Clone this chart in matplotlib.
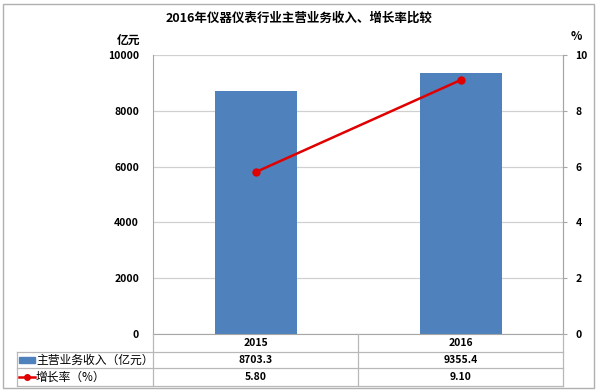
import matplotlib
matplotlib.use("Agg")
import matplotlib.pyplot as plt
from matplotlib.patches import Rectangle
from matplotlib.lines import Line2D
from matplotlib.transforms import blended_transform_factory

plt.rcParams['font.family'] = ['Noto Sans CJK SC', 'DejaVu Sans']

years = ['2015', '2016']
revenue = [8703.3, 9355.4]
growth = [5.80, 9.10]
revenue_labels = ['8703.3', '9355.4']
growth_labels = ['5.80', '9.10']
title = '2016年仪器仪表行业主营业务收入、增长率比较'
row_names = ['主营业务收入（亿元）', '增长率（%）']

W, H = 598, 392
bar_color = '#4F81BD'
line_color = '#E00000'
grid_color = '#D0D0D0'
edge_color = '#A6A6A6'


def fx(x):
    return x / W


def fy(y):
    return 1 - y / H


fig = plt.figure(figsize=(W / 100, H / 100), dpi=100)

# outer frame
fig.patches.append(Rectangle((fx(3), fy(388)), fx(591), (388 - 4) / H,
                             transform=fig.transFigure, fill=False,
                             edgecolor='#B0B0B0', linewidth=1))

ax = fig.add_axes([fx(153), fy(334), fx(410), (334 - 55) / H])
x = list(range(len(years)))
ax.bar(x, revenue, width=0.4, color=bar_color, zorder=2)
ax.set_xlim(-0.5, 1.5)
ax.set_ylim(0, 10000)
ax.set_yticks([0, 2000, 4000, 6000, 8000, 10000])
ax.set_xticks([])
ax.grid(axis='y', color=grid_color, linewidth=0.9, zorder=0)
for s in ['top']:
    ax.spines[s].set_visible(False)
for s in ['left', 'right', 'bottom']:
    ax.spines[s].set_color(edge_color)
ax.tick_params(axis='y', length=0, labelsize=7.5, pad=10)
for lab in ax.get_yticklabels():
    lab.set_fontweight('bold')

ax2 = ax.twinx()
ax2.plot(x, growth, color=line_color, linewidth=1.8, marker='o',
         markersize=5, zorder=3)
ax2.set_ylim(0, 10)
ax2.set_yticks([0, 2, 4, 6, 8, 10])
ax2.tick_params(axis='y', length=3, color=edge_color, labelsize=7.5, pad=6)
for lab in ax2.get_yticklabels():
    lab.set_fontweight('bold')
for s in ['top', 'left', 'bottom']:
    ax2.spines[s].set_visible(False)
ax2.spines['right'].set_color(edge_color)

fig.text(fx(299), fy(18), title, ha='center', va='center', fontsize=9,
         fontweight='bold')
fig.text(fx(140), fy(40), '亿元', ha='right', va='center', fontsize=8.5,
         fontweight='bold')
fig.text(fx(576), fy(37), '%', ha='center', va='center', fontsize=8.5,
         fontweight='bold')

# data table below the chart
line_kw = dict(color='#B8B8B8', linewidth=0.9, transform=fig.transFigure)
for y in [352, 368, 386]:
    fig.lines.append(Line2D([fx(17), fx(563)], [fy(y), fy(y)], **line_kw))
fig.lines.append(Line2D([fx(17), fx(17)], [fy(352), fy(386)], **line_kw))
for xv in [153, 358, 563]:
    fig.lines.append(Line2D([fx(xv), fx(xv)], [fy(334), fy(386)], **line_kw))

bt = blended_transform_factory(ax.transData, fig.transFigure)
rows = [(343, years), (360, revenue_labels), (377, growth_labels)]
for y, labels in rows:
    for xi, lab in zip(x, labels):
        fig.text(xi, fy(y), lab, transform=bt, ha='center', va='center',
                 fontsize=7.5, fontweight='bold')

# legend keys in the table
fig.patches.append(Rectangle((fx(19), fy(363)), fx(16), 6 / H,
                             transform=fig.transFigure, color=bar_color))
fig.lines.append(Line2D([fx(19), fx(35)], [fy(377), fy(377)],
                        color=line_color, linewidth=1.8, marker='o',
                        markevery=[], transform=fig.transFigure))
fig.lines.append(Line2D([fx(27)], [fy(377)], color=line_color, marker='o',
                        markersize=4, transform=fig.transFigure))
fig.text(fx(36), fy(360), row_names[0], ha='left', va='center', fontsize=8.5)
fig.text(fx(36), fy(377), row_names[1], ha='left', va='center', fontsize=8.5)

fig.savefig('out.png', dpi=100)
